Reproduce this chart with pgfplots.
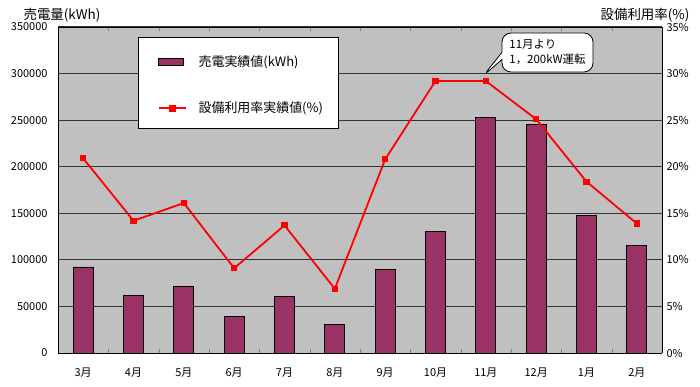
\documentclass[border=0pt]{standalone}
\usepackage{pgfplots}
\pgfplotsset{compat=1.18}
\usepackage{fontspec}
\setmainfont{Noto Sans CJK JP}
\usetikzlibrary{shapes.callouts}
\definecolor{barcol}{HTML}{993366}
\definecolor{bgcol}{HTML}{C0C0C0}
\begin{document}
\begin{tikzpicture}
\useasboundingbox (-58bp,-34bp) rectangle (642bp,353bp);
\begin{axis}[
  at={(0,0)}, anchor=south west,
  scale only axis, width=604bp, height=326bp,
  xmin=-0.5, xmax=11.5, ymin=0, ymax=350000,
  axis background/.style={fill=bgcol},
  xtick={0,...,11},
  xticklabels={3月,4月,5月,6月,7月,8月,9月,10月,11月,12月,1月,2月},
  minor xtick={0.5,1.5,...,10.5},
  major x tick style={draw=none},
  minor tick length=4bp, tick align=inside,
  ytick={0,50000,...,350000},
  major y tick style={draw=none},
  scaled y ticks=false,
  yticklabel style={/pgf/number format/fixed,/pgf/number format/1000 sep={}},
  /pgf/number format/assume math mode=true,
  ymajorgrids, grid style={draw=black!80, line width=1bp},
  axis line style={draw=black, line width=0.9bp},
  ticklabel style={font=\fontsize{11}{13}\selectfont},
  xticklabel style={yshift=-11bp},
  yticklabel style={xshift=-7bp},
  axis y line*=left,
  clip=false,
]
\addplot[ybar, bar width=20bp, fill=barcol, draw=black, line width=0.8bp] coordinates {
(0,92400) (1,61800) (2,71000) (3,38900) (4,60700) (5,30700)
(6,89900) (7,130300) (8,252700) (9,245200) (10,147700) (11,115300)};
\draw[black, line width=0.9bp] (rel axis cs:0,1) -- (rel axis cs:1,1);
\fill[white, draw=black, line width=0.9bp] (rel axis cs:0.1325,0.969) rectangle (rel axis cs:0.4636,0.690);
\end{axis}
\begin{axis}[
  at={(0,0)}, anchor=south west,
  scale only axis, width=604bp, height=326bp,
  xmin=-0.5, xmax=11.5, ymin=0, ymax=35,
  axis x line=none, axis y line*=right,
  ytick={0,5,...,35},
  major y tick style={draw=none},
  yticklabel={\pgfmathprintnumber{\tick}\%},
  /pgf/number format/assume math mode=true,
  axis line style={draw=black, line width=0.9bp},
  ticklabel style={font=\fontsize{11}{13}\selectfont},
  yticklabel style={xshift=1bp},
  legend style={at={(0.16,0.925)}, anchor=north west, draw=none, fill=none,
    font=\fontsize{13}{15}\selectfont, row sep=30bp,
    /tikz/every odd column/.append style={column sep=10bp}},
  legend cell align=left,
  clip=false,
]
\addlegendimage{legend image code/.code={\draw[fill=barcol, draw=black, line width=0.8bp] (0bp,-3.5bp) rectangle (25bp,3.5bp);}}
\addlegendentry{売電実績値(kWh)}
\addplot[red, line width=1.8bp, mark=square*, mark size=2.2bp,
  legend image code/.code={\draw[red, line width=1.8bp] (0bp,0bp) -- (27bp,0bp); \fill[red] (11bp,-2.5bp) rectangle (16bp,2.5bp);}]
coordinates {
(0,20.9) (1,14.2) (2,16.1) (3,9.1) (4,13.7) (5,6.9)
(6,20.8) (7,29.2) (8,29.2) (9,25.1) (10,18.4) (11,13.9)};
\addlegendentry{設備利用率実績値(\%)}
\end{axis}
\node[rectangle callout, draw=black, fill=white, line width=0.8bp, rounded corners=9bp,
  callout absolute pointer={(425bp,277bp)}, minimum width=91bp, minimum height=39bp,
  align=left, font=\fontsize{11.5}{15}\selectfont, inner sep=3bp]
  at (489.5bp,300.5bp) {11月より\\1，200kW運転};
\node[font=\fontsize{13.5}{15}\selectfont] at (4bp,338bp) {売電量(kWh)};
\node[font=\fontsize{13.5}{15}\selectfont] at (587bp,338bp) {設備利用率(\%)};
\end{tikzpicture}
\end{document}
